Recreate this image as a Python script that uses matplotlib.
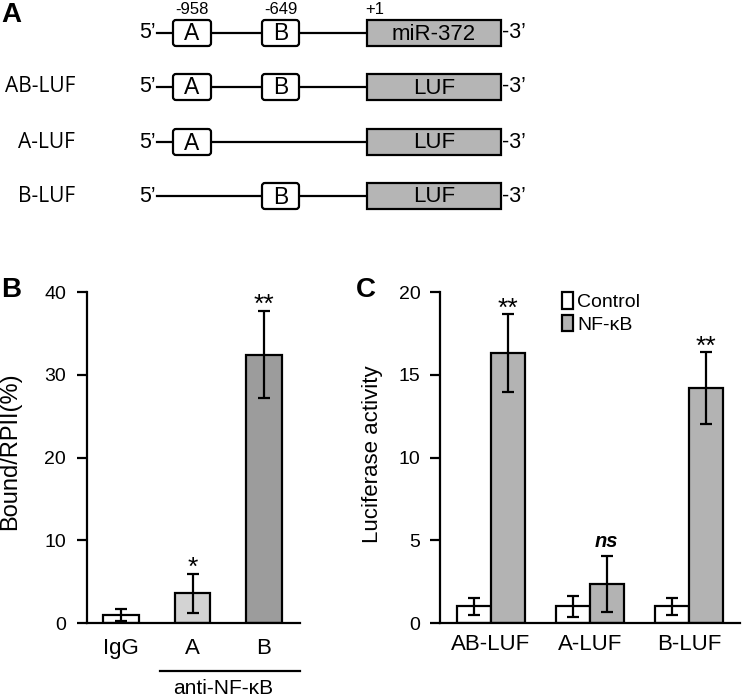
import numpy as np
import matplotlib
matplotlib.use("Agg")
import matplotlib.pyplot as plt
from matplotlib.patches import FancyBboxPatch, Rectangle

plt.rcParams['font.family'] = ['Liberation Sans', 'DejaVu Sans']

# panel A: promoter constructs
construct_names = ["", "AB-LUF", "A-LUF", "B-LUF"]
gene_labels = ["miR-372", "LUF", "LUF", "LUF"]
construct_sites = [["A", "B"], ["A", "B"], ["A"], ["B"]]
site_positions = ["-958", "-649", "+1"]

# panel B: ChIP
chip_labels = ["IgG", "A", "B"]
chip_values = [1.0, 3.6, 32.4]
chip_err = [0.7, 2.35, 5.25]
chip_colors = ["white", "#d3d3d3", "#9c9c9c"]
chip_stars = ["", "*", "**"]

# panel C: luciferase
luc_labels = ["AB-LUF", "A-LUF", "B-LUF"]
luc_control = [1.0, 1.0, 1.0]
luc_control_err = [0.5, 0.62, 0.5]
luc_nfkb = [16.3, 2.36, 14.2]
luc_nfkb_err = [2.35, 1.7, 2.2]
luc_marks = ["**", "ns", "**"]

W, H = 742, 698
fig = plt.figure(figsize=(W / 100, H / 100), dpi=100)

# ---------- panel A (drawn in pixel units) ----------
axA = fig.add_axes([0, 1 - 230 / H, 1, 230 / H])
axA.set_xlim(0, W)
axA.set_ylim(230, 0)
axA.axis('off')

row_y = [33, 87, 142, 196]
site_x = {"A": (173, 211), "B": (262, 299)}
gene_x = (367, 501)
bh = 26
for i, y in enumerate(row_y):
    axA.plot([157, gene_x[0]], [y, y], color='black', lw=1.6, zorder=1)
    axA.text(156, y, "5’", ha='right', va='center', fontsize=15.5)
    for s in construct_sites[i]:
        x0, x1 = site_x[s]
        box = FancyBboxPatch((x0 + 3, y - bh / 2 + 3), x1 - x0 - 6, bh - 6,
                             boxstyle="round,pad=3", fc='white', ec='black', lw=1.6, zorder=2)
        axA.add_patch(box)
        axA.text((x0 + x1) / 2, y + 1, s, ha='center', va='center', fontsize=16.5, zorder=3)
    axA.add_patch(Rectangle((gene_x[0], y - bh / 2), gene_x[1] - gene_x[0], bh,
                            fc='#b5b5b5', ec='black', lw=1.6, zorder=2))
    axA.text((gene_x[0] + gene_x[1]) / 2, y + 1, gene_labels[i], ha='center', va='center',
             fontsize=16, zorder=3)
    axA.text(gene_x[1] + 1, y, "-3’", ha='left', va='center', fontsize=15.5)
    axA.text(75, y, construct_names[i], ha='right', va='center', fontsize=15,
             family=['Open Sans', 'DejaVu Sans'])
for lab, xc in zip(site_positions, [192, 281, 375]):
    axA.text(xc, 9, lab, ha='center', va='center', fontsize=12)

fig.text(1 / W, 1 - 15 / H, "A", fontsize=20, fontweight='bold', va='center', ha='left')
fig.text(1 / W, 1 - 290 / H, "B", fontsize=20, fontweight='bold', va='center', ha='left')
fig.text(356 / W, 1 - 290 / H, "C", fontsize=20, fontweight='bold', va='center', ha='left')


def style(ax, ypad, xpad):
    for s in ['top', 'right']:
        ax.spines[s].set_visible(False)
    ax.spines['left'].set_linewidth(1.6)
    ax.spines['bottom'].set_linewidth(1.6)
    ax.tick_params(axis='y', direction='out', length=7, width=1.6, labelsize=14, pad=ypad)
    ax.tick_params(axis='x', length=0, labelsize=16, pad=xpad)


err_kw = dict(elinewidth=1.6, capsize=4.5, capthick=1.6, ecolor='black')

# ---------- panel B ----------
axB = fig.add_axes([87 / W, 1 - 623 / H, 213 / W, 331 / H])
xb = np.arange(len(chip_labels))
axB.bar(xb, chip_values, width=0.5, color=chip_colors, edgecolor='black', lw=1.6,
        yerr=chip_err, error_kw=err_kw, zorder=2)
for x, v, e, s in zip(xb, chip_values, chip_err, chip_stars):
    if s:
        axB.text(x, v + e - 0.1, s, ha='center', va='baseline', fontsize=19)
axB.set_xlim(-0.476, 2.503)
axB.set_ylim(0, 40)
axB.set_yticks([0, 10, 20, 30, 40])
axB.set_xticks(xb)
axB.set_xticklabels(chip_labels)
axB.set_ylabel("Bound/RPII(%)", fontsize=17)
axB.yaxis.set_label_coords(-0.31, 0.52)
style(axB, 8, 11)
axB.plot([0.545, 2.503], [-0.145, -0.145], color='black', lw=1.6,
         transform=axB.get_xaxis_transform(), clip_on=False)
axB.text(1.43, -0.17, "anti-NF-κB", ha='center', va='top', fontsize=15,
         transform=axB.get_xaxis_transform())

# ---------- panel C ----------
axC = fig.add_axes([440 / W, 1 - 623 / H, 300 / W, 331 / H])
xc = np.arange(len(luc_labels))
bw = 0.34
axC.bar(xc - bw / 2, luc_control, width=bw, color='white', edgecolor='black', lw=1.6,
        yerr=luc_control_err, error_kw=err_kw, label="Control", zorder=2)
axC.bar(xc + bw / 2, luc_nfkb, width=bw, color='#b3b3b3', edgecolor='black', lw=1.6,
        yerr=luc_nfkb_err, error_kw=err_kw, label="NF-κB", zorder=2)
for x, v, e, s in zip(xc, luc_nfkb, luc_nfkb_err, luc_marks):
    if s == "ns":
        axC.text(x + bw / 2, v + e + 0.55, s, ha='center', va='baseline', fontsize=14.5,
                 fontweight='bold', style='italic')
    else:
        axC.text(x + bw / 2, v + e - 0.12, s, ha='center', va='baseline', fontsize=19)
axC.set_xlim(-0.515, 2.515)
axC.set_ylim(0, 20)
axC.set_yticks([0, 5, 10, 15, 20])
axC.set_xticks(xc)
axC.set_xticklabels(luc_labels)
axC.set_ylabel("Luciferase activity", fontsize=16)
axC.yaxis.set_label_coords(-0.19, 0.51)
style(axC, 7, 8)
axC.legend(loc='upper left', bbox_to_anchor=(0.38, 1.022), frameon=False, fontsize=14,
           handlelength=0.6, handleheight=0.9, handletextpad=0.2, labelspacing=0.2,
           borderaxespad=0)

fig.savefig("out.png", dpi=100)
